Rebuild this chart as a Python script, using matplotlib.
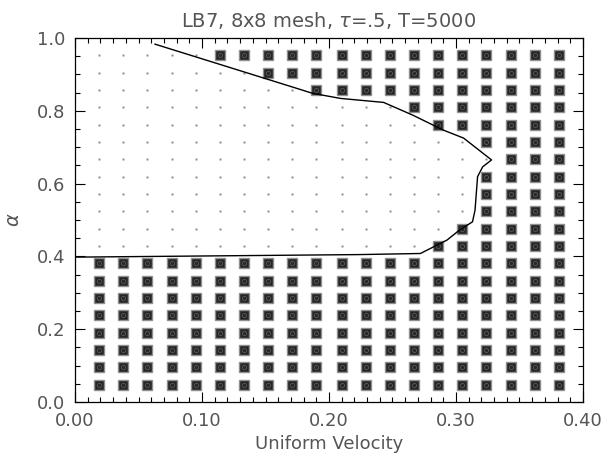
import matplotlib
matplotlib.use('Agg')
import matplotlib.pyplot as plt
from matplotlib.ticker import MultipleLocator, FormatStrFormatter

# grid of runs (uniform velocity x alpha)
vel = [0.019, 0.038, 0.057, 0.076, 0.095, 0.114, 0.133, 0.152, 0.171, 0.190,
       0.210, 0.229, 0.248, 0.267, 0.286, 0.305, 0.324, 0.343, 0.362, 0.381]
alpha = [0.048, 0.095, 0.143, 0.190, 0.238, 0.286, 0.333, 0.381, 0.429, 0.476,
         0.524, 0.571, 0.619, 0.667, 0.714, 0.762, 0.810, 0.857, 0.905, 0.952]
# for each alpha row: index (1-based) of the first unstable velocity column
first_unstable = [1, 1, 1, 1, 1, 1, 1, 1, 15, 16, 17, 17, 17, 18, 17, 15, 14, 10, 8, 6]

# stability boundary
bound_x = [0.063, 0.177, 0.187, 0.209, 0.243, 0.266, 0.290, 0.306, 0.328,
           0.321, 0.317, 0.315, 0.313, 0.303, 0.293, 0.272, 0.224, 0.0]
bound_y = [0.983, 0.859, 0.848, 0.834, 0.823, 0.788, 0.747, 0.725, 0.665,
           0.646, 0.619, 0.527, 0.495, 0.473, 0.445, 0.408, 0.405, 0.398]

sq_x, sq_y, dot_x, dot_y = [], [], [], []
for a, f in zip(alpha, first_unstable):
    for i, v in enumerate(vel):
        if i + 1 >= f:
            sq_x.append(v)
            sq_y.append(a)
        else:
            dot_x.append(v)
            dot_y.append(a)

txt = '#555555'
plt.rcParams['font.family'] = 'DejaVu Sans'

fig = plt.figure(figsize=(6.06, 4.66), dpi=100)
ax = fig.add_axes([0.1238, 0.1373, 0.8382, 0.7812])

ax.plot(dot_x, dot_y, linestyle='none', marker='.', markersize=1.4, color='#999999')
ax.plot(sq_x, sq_y, linestyle='none', marker='s', markersize=6.8,
        markerfacecolor='#262626', markeredgecolor='#8f8f8f', markeredgewidth=1.0)
ax.plot(sq_x, sq_y, linestyle='none', marker='o', markersize=3.0,
        markerfacecolor='none', markeredgecolor='#5a5a5a', markeredgewidth=0.6)
ax.plot(bound_x, bound_y, color='black', linewidth=1.0)

ax.set_xlim(0, 0.4)
ax.set_ylim(0, 1.0)
ax.xaxis.set_major_locator(MultipleLocator(0.1))
ax.xaxis.set_minor_locator(MultipleLocator(0.01))
ax.yaxis.set_major_locator(MultipleLocator(0.2))
ax.yaxis.set_minor_locator(MultipleLocator(0.05))
ax.xaxis.set_major_formatter(FormatStrFormatter('%.2f'))
ax.yaxis.set_major_formatter(FormatStrFormatter('%.1f'))
ax.tick_params(which='both', direction='in', top=True, right=True,
               labelsize=13, labelcolor=txt, width=0.8, pad=7)
ax.tick_params(which='major', length=7)
ax.tick_params(which='minor', length=3.5)
for s in ax.spines.values():
    s.set_linewidth(0.9)

ax.set_xlabel('Uniform Velocity', fontsize=13, color=txt, labelpad=4)
ax.set_ylabel(r'$\alpha$', fontsize=14, color=txt, labelpad=10)
ax.set_title(r'LB7, 8x8 mesh, $\tau$=.5, T=5000', fontsize=14, color=txt, pad=8)

fig.savefig('out.png', dpi=100)
